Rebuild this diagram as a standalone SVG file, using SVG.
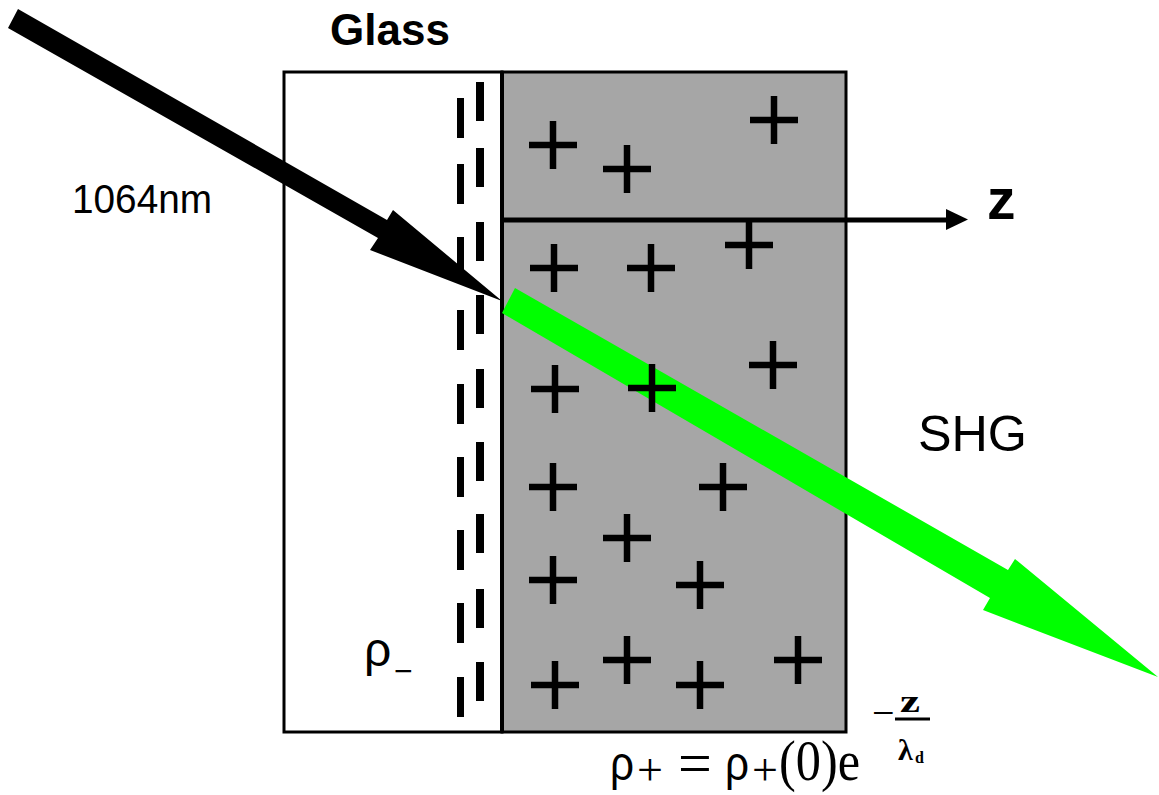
<svg xmlns="http://www.w3.org/2000/svg" width="1159" height="795" viewBox="0 0 1159 795">
  <style>
    .lbl { font-family: "Liberation Sans", Arial, sans-serif; fill: #000; }
    .ser { font-family: "Liberation Serif", "Times New Roman", serif; fill: #000; }
    .dash { fill: #000; }
    .plus { stroke: #000; stroke-width: 6.5; fill: none; }
  </style>
  <defs>
    <path id="plus" class="plus" d="M-24,0 H24 M0,-24 V24"/>
  </defs>
  <rect width="1159" height="795" fill="#fff"/>

  <g id="glass">
    <rect x="284" y="72" width="218" height="660" fill="#fff" stroke="#000" stroke-width="3"/>
  </g>
  <g id="medium">
    <rect x="502" y="72" width="344" height="660" fill="#a6a6a6" stroke="#000" stroke-width="3"/>
    <line x1="502" y1="72" x2="502" y2="732" stroke="#000" stroke-width="4"/>
  </g>

  <g id="negative-charges">
    <rect class="dash" x="476" y="82" width="8" height="39"/>
    <rect class="dash" x="476" y="148" width="8" height="39"/>
    <rect class="dash" x="476" y="222" width="8" height="39"/>
    <rect class="dash" x="476" y="295" width="8" height="39"/>
    <rect class="dash" x="476" y="369" width="8" height="39"/>
    <rect class="dash" x="476" y="442" width="8" height="39"/>
    <rect class="dash" x="476" y="514" width="8" height="39"/>
    <rect class="dash" x="476" y="589" width="8" height="39"/>
    <rect class="dash" x="476" y="662" width="8" height="39"/>
    <rect class="dash" x="457" y="98" width="7" height="40"/>
    <rect class="dash" x="457" y="164" width="7" height="40"/>
    <rect class="dash" x="457" y="237" width="7" height="40"/>
    <rect class="dash" x="457" y="310" width="7" height="40"/>
    <rect class="dash" x="457" y="384" width="7" height="40"/>
    <rect class="dash" x="457" y="457" width="7" height="40"/>
    <rect class="dash" x="457" y="530" width="7" height="40"/>
    <rect class="dash" x="457" y="603" width="7" height="40"/>
    <rect class="dash" x="457" y="677" width="7" height="40"/>
  </g>

  <g id="connectors">
    <line x1="502" y1="220" x2="950" y2="220" stroke="#000" stroke-width="5"/>
    <polygon points="946,209 968,219.5 946,230" fill="#000"/>
    <polygon id="beam-1064" points="18,9 387,220 393,210 502,301 370,250 378,238 8,28" fill="#000"/>
    <polygon id="beam-shg" points="515,288 1008,570 1015,559 1158,677 983,610 990,598 502,313" fill="#00ff00"/>
  </g>

  <g id="positive-charges">
    <use href="#plus" x="553" y="145"/>
    <use href="#plus" x="627" y="169"/>
    <use href="#plus" x="774" y="120"/>
    <use href="#plus" x="749" y="245"/>
    <use href="#plus" x="554" y="268"/>
    <use href="#plus" x="651" y="268"/>
    <use href="#plus" x="773" y="365"/>
    <use href="#plus" x="555" y="389"/>
    <use href="#plus" x="652" y="388"/>
    <use href="#plus" x="553" y="487"/>
    <use href="#plus" x="723" y="487"/>
    <use href="#plus" x="627" y="538"/>
    <use href="#plus" x="553" y="580"/>
    <use href="#plus" x="700" y="585"/>
    <use href="#plus" x="627" y="660"/>
    <use href="#plus" x="798" y="660"/>
    <use href="#plus" x="555" y="685"/>
    <use href="#plus" x="700" y="685"/>
  </g>

  <g id="labels">
    <text class="lbl" x="330" y="45" font-size="44" font-weight="bold">Glass</text>
    <text class="lbl" x="72" y="213" font-size="41" textLength="140" lengthAdjust="spacingAndGlyphs">1064nm</text>
    <text class="lbl" x="987" y="219" font-size="57" font-weight="bold">z</text>
    <text class="lbl" x="918" y="451" font-size="50" textLength="109" lengthAdjust="spacingAndGlyphs">SHG</text>
    <text class="lbl" x="364" y="666" font-size="48">ρ</text>
    <text class="lbl" x="394" y="682" font-size="32">−</text>
  </g>

  <g id="equation">
    <text class="lbl" x="610" y="780" font-size="48" textLength="24" lengthAdjust="spacingAndGlyphs">ρ</text>
    <text class="ser" x="637" y="785" font-size="46">+</text>
    <text class="ser" x="678" y="783" font-size="60">=</text>
    <text class="lbl" x="725" y="780" font-size="48" textLength="24" lengthAdjust="spacingAndGlyphs">ρ</text>
    <text class="ser" x="752" y="785" font-size="46">+</text>
    <text class="ser" x="779" y="780" font-size="58" textLength="81" lengthAdjust="spacingAndGlyphs">(0)e</text>
    <text class="ser" x="872" y="726" font-size="40">−</text>
    <text class="ser" x="900" y="712" font-size="32" font-weight="bold" textLength="20" lengthAdjust="spacingAndGlyphs">z</text>
    <line x1="895" y1="719" x2="930" y2="719" stroke="#000" stroke-width="3"/>
    <text class="ser" x="898" y="760" font-size="30" font-weight="bold">λ</text>
    <text class="ser" x="915" y="763" font-size="16" font-weight="bold">d</text>
  </g>
</svg>
